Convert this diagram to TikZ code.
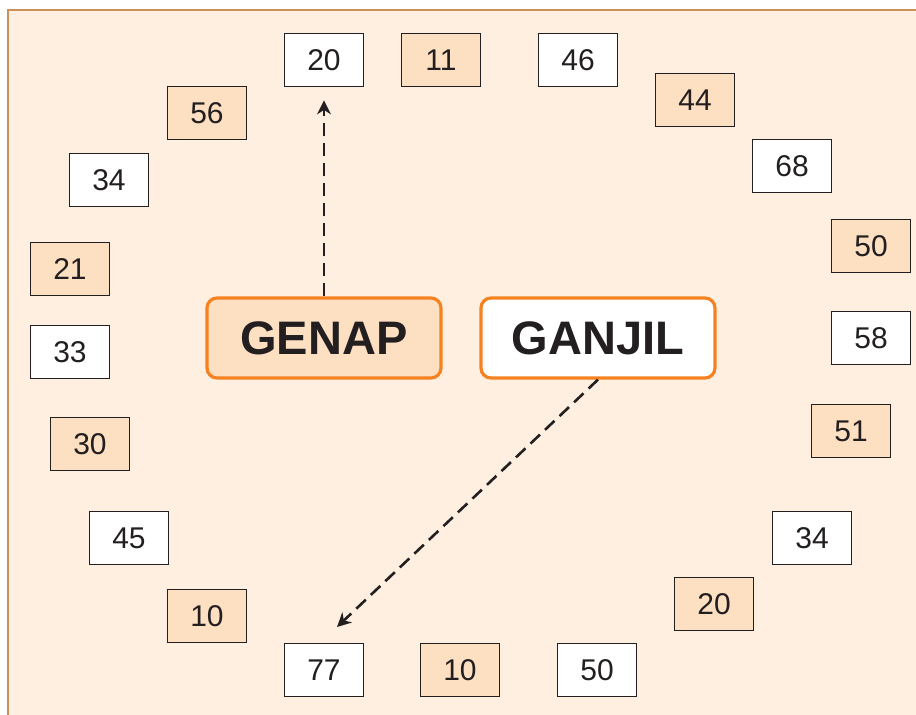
\documentclass[tikz,border=0pt]{standalone}
\usepackage{fontspec}
\setmainfont{Liberation Sans}
\usetikzlibrary{arrows.meta,positioning}
\definecolor{cbg}{RGB}{254,239,224}
\definecolor{cedge}{RGB}{200,144,90}
\definecolor{cfill}{RGB}{253,223,194}
\definecolor{cline}{RGB}{35,31,32}
\definecolor{corange}{RGB}{245,130,32}

\begin{document}
\begin{tikzpicture}[
            x=0.5pt, y=-0.5pt, >=Stealth,
            num/.style={draw=cline, line width=0.9pt, text=cline, font=\fontsize{15}{15}\selectfont,
                        minimum width=39.5pt, minimum height=26.5pt, inner sep=0pt},
            ev/.style={num, fill=white},
            od/.style={num, fill=cfill},
            big/.style={draw=corange, line width=1.6pt, rounded corners=5pt, text=cline,
                        font=\fontsize{23.5}{23.5}\selectfont\bfseries,
                        minimum width=117pt, minimum height=40pt, inner sep=0pt},
            link/.style={draw=cline, line width=1.3pt,
                         dash pattern=on 6.5pt off 3.5pt, arrows={-Stealth[length=7pt,width=7pt]}}
          ]
          \useasboundingbox (0,0) rectangle (916,715);
          \fill[cbg] (8,10) rectangle (916,715);
          \draw[cedge, line width=1pt] (8,715) -- (8,10) -- (916,10);

          % ring of numbers
          \node[ev] (t20)  at (324,60)  {20};
          \node[od] (t11)  at (441,60)  {11};
          \node[ev] (t46)  at (578,60)  {46};
          \node[od] (r44)  at (695,100) {44};
          \node[ev] (r68)  at (792,166) {68};
          \node[od] (r50)  at (871,246) {50};
          \node[ev] (r58)  at (871,338) {58};
          \node[od] (r51)  at (851,431) {51};
          \node[ev] (r34)  at (812,538) {34};
          \node[od] (r20)  at (714,604) {20};
          \node[ev] (b50)  at (597,670) {50};
          \node[od] (b10)  at (460,670) {10};
          \node[ev] (b77)  at (324,670) {77};
          \node[od] (l10)  at (207,616) {10};
          \node[ev] (l45)  at (129,538) {45};
          \node[od] (l30)  at (90,444)  {30};
          \node[ev] (l33)  at (70,352)  {33};
          \node[od] (l21)  at (70,269)  {21};
          \node[ev] (l34)  at (109,180) {34};
          \node[od] (l56)  at (207,113) {56};

          % the two groups
          \node[big, fill=cfill] (genap)  at (324,338) {GENAP};
          \node[big, fill=white] (ganjil) at (598,338) {GANJIL};

          \coordinate (tip77) at (337,627);
          \draw[link, shorten >=6.5pt] (genap.north) -- (t20.south);
          \draw[link] (ganjil.south) -- (tip77);
        \end{tikzpicture}
\end{document}
